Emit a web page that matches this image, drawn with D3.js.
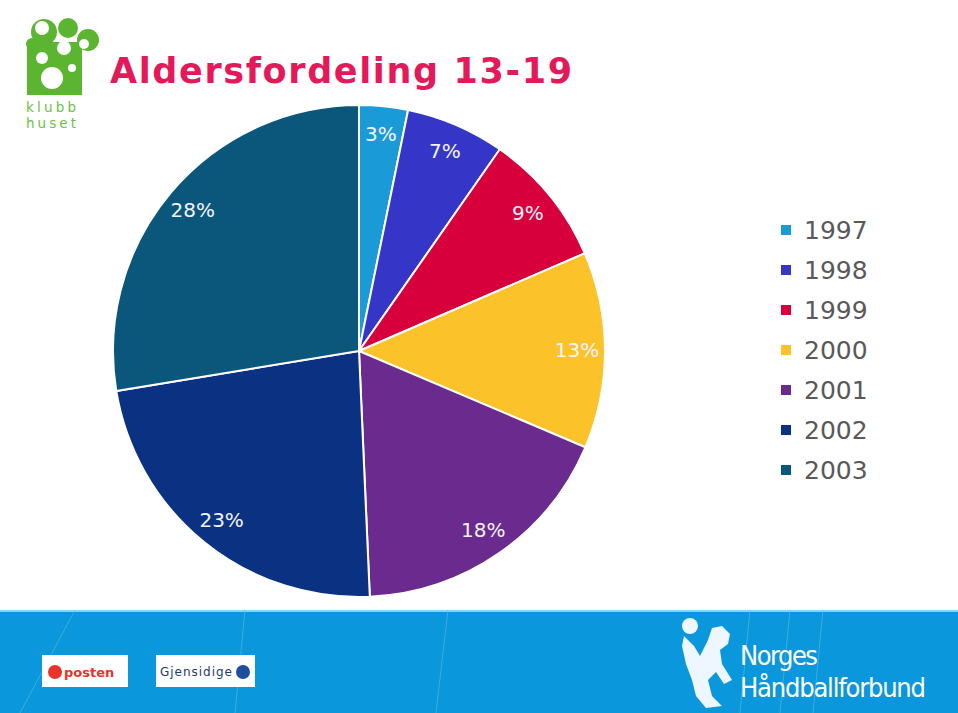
<!DOCTYPE html>
<html>
<head>
<meta charset="utf-8">
<script src="https://cdn.jsdelivr.net/npm/d3@7"></script>
<style>
  body { margin: 0; background: #fff; }
  svg { display: block; font-family: "DejaVu Sans", Verdana, sans-serif; }
</style>
</head>
<body>
<svg id="chart" width="958" height="713"></svg>
<script>
const years = ["1997", "1998", "1999", "2000", "2001", "2002", "2003"];
const shares = [3.2, 6.5, 8.8, 12.9, 17.9, 23.1, 27.6];
const colors = ["#1b9ad8", "#3535c8", "#d8003c", "#fcc22a", "#6a2a8e", "#0b3282", "#0a577b"];

const svg = d3.select("svg#chart");
const width = 958, height = 713;

// klubbhuset logo (top left)
const green = "#5cb531";
const logo = svg.append("g");
logo.append("rect").attr("x", 27).attr("y", 42).attr("width", 55).attr("height", 53).attr("fill", green);
[[44,32,13],[68,28,10],[88,40,11],[32,44,6]].forEach(c => {
    logo.append("circle").attr("cx", c[0]).attr("cy", c[1]).attr("r", c[2]).attr("fill", green);
});
[[42,28,7],[64,48,7],[84,44,5],[42,58,6],[52,78,11],[72,68,4]].forEach(c => {
    logo.append("circle").attr("cx", c[0]).attr("cy", c[1]).attr("r", c[2]).attr("fill", "#fff");
});
logo.append("text").attr("x", 26).attr("y", 112).attr("fill", "#6cc04a")
    .attr("font-size", 13.5).attr("textLength", 50).text("klubb");
logo.append("text").attr("x", 26).attr("y", 128).attr("fill", "#6cc04a")
    .attr("font-size", 13.5).attr("textLength", 50).text("huset");

// title
svg.append("text")
    .attr("x", 110).attr("y", 83)
    .attr("fill", "#e5195a")
    .attr("font-size", 35).attr("font-weight", "bold")
    .attr("textLength", 462)
    .text("Aldersfordeling 13-19");

// pie
const cx = 359, cy = 351, radius = 246;
const total = d3.sum(shares);
const pie = d3.pie().sort(null).value(d => d)(shares);
const arc = d3.arc().innerRadius(0).outerRadius(radius);
const labelArc = d3.arc().innerRadius(218).outerRadius(218);

const g = svg.append("g").attr("transform", `translate(${cx},${cy})`);
g.selectAll("path")
    .data(pie)
    .enter()
    .append("path")
    .attr("d", arc)
    .attr("fill", (d, i) => colors[i])
    .attr("stroke", "#fff")
    .attr("stroke-width", 2);

g.selectAll("text.lbl")
    .data(pie)
    .enter()
    .append("text")
    .attr("class", "lbl")
    .attr("transform", d => `translate(${labelArc.centroid(d)})`)
    .attr("text-anchor", "middle")
    .attr("dy", "0.35em")
    .attr("fill", "#f4f4ff")
    .attr("font-size", 20)
    .text(d => Math.round(d.value / total * 100) + "%");

// legend
const legend = svg.append("g").attr("transform", "translate(781,230)");
const rows = legend.selectAll("g")
    .data(years)
    .enter()
    .append("g")
    .attr("transform", (d, i) => `translate(0,${i * 40})`);
rows.append("rect")
    .attr("x", 0).attr("y", -5).attr("width", 10).attr("height", 10)
    .attr("fill", (d, i) => colors[i]);
rows.append("text")
    .attr("x", 23).attr("dy", "0.36em")
    .attr("fill", "#595959")
    .attr("font-size", 25)
    .text(d => d);

// footer band
const footer = svg.append("g").attr("transform", "translate(0,610)");
footer.append("rect").attr("x", 0).attr("y", 0).attr("width", width).attr("height", 103)
    .attr("fill", "#0a97db");
footer.append("rect").attr("x", 0).attr("y", 0).attr("width", width).attr("height", 2)
    .attr("fill", "#8fd0f0");
[[75,0,20,103],[245,0,235,103],[448,0,436,103],[750,0,740,103],[790,0,780,103],[823,0,813,103]]
    .forEach(l => footer.append("line")
        .attr("x1", l[0]).attr("y1", l[1]).attr("x2", l[2]).attr("y2", l[3])
        .attr("stroke", "#5bbce8").attr("stroke-width", 1).attr("opacity", 0.6));

// sponsor boxes
footer.append("rect").attr("x", 42).attr("y", 45).attr("width", 86).attr("height", 32).attr("fill", "#fff");
footer.append("circle").attr("cx", 55).attr("cy", 62).attr("r", 7).attr("fill", "#e8332a");
footer.append("text").attr("x", 64).attr("y", 67).attr("fill", "#e8332a")
    .attr("font-size", 13).attr("font-weight", "bold").text("posten");
footer.append("rect").attr("x", 156).attr("y", 45).attr("width", 99).attr("height", 32).attr("fill", "#fff");
footer.append("text").attr("x", 160).attr("y", 66).attr("fill", "#1d3a6e")
    .attr("font-size", 12).attr("textLength", 72).text("Gjensidige");
footer.append("circle").attr("cx", 243).attr("cy", 62).attr("r", 7).attr("fill", "#1d4f9e");

// NHF logo figure
footer.append("path")
    .attr("d", "M684,26 L694,36 L700,46 L708,30 L712,18 L722,16 L730,24 L728,34 L720,40 L722,54 L732,70 L724,74 L716,62 L708,70 L712,86 L722,96 L706,98 L696,86 L692,70 L686,54 L682,36 Z")
    .attr("fill", "#eef7ff");
footer.append("circle").attr("cx", 690).attr("cy", 16).attr("r", 8).attr("fill", "#eef7ff");
footer.append("text").attr("x", 740).attr("y", 55).attr("fill", "#fff")
    .attr("font-size", 27).attr("font-family", "'DejaVu Sans Condensed', 'Liberation Sans Narrow', sans-serif")
    .attr("textLength", 78)
    .text("Norges");
footer.append("text").attr("x", 740).attr("y", 87).attr("fill", "#fff")
    .attr("font-size", 27).attr("font-family", "'DejaVu Sans Condensed', 'Liberation Sans Narrow', sans-serif")
    .attr("textLength", 186)
    .text("Håndballforbund");
</script>
</body>
</html>
